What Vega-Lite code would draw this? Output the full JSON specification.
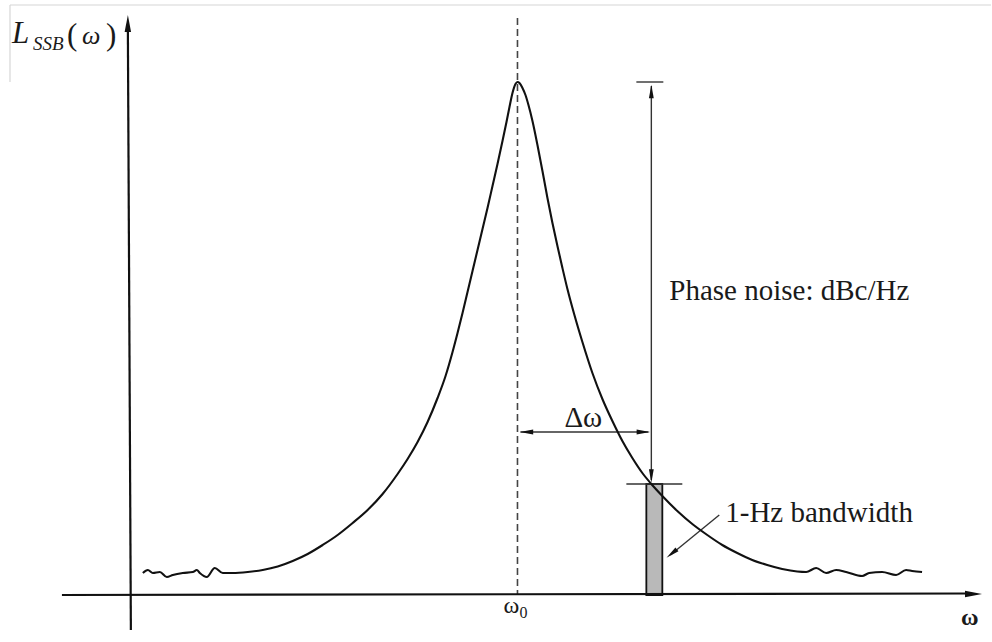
{
  "$schema": "https://vega.github.io/schema/vega-lite/v6.json",
  "width": 992,
  "height": 642,
  "autosize": {"type": "fit", "contains": "padding"},
  "padding": 0,
  "background": "white",
  "config": {"view": {"stroke": null}},
  "datasets": {
    "curve": [
      {"w": 143, "L": 69}, {"w": 148, "L": 72}, {"w": 153, "L": 69}, {"w": 160, "L": 70},
      {"w": 167, "L": 65}, {"w": 173, "L": 67}, {"w": 183, "L": 69}, {"w": 193, "L": 70},
      {"w": 197, "L": 72}, {"w": 200, "L": 69}, {"w": 207, "L": 65}, {"w": 215, "L": 74},
      {"w": 223, "L": 69},
      {"w": 233, "L": 69}, {"w": 248, "L": 70}, {"w": 263, "L": 72}, {"w": 278, "L": 75.5},
      {"w": 293, "L": 81}, {"w": 308, "L": 88}, {"w": 323, "L": 97}, {"w": 338, "L": 107},
      {"w": 353, "L": 119}, {"w": 368, "L": 132}, {"w": 383, "L": 148}, {"w": 398, "L": 168},
      {"w": 408, "L": 183}, {"w": 418, "L": 200}, {"w": 428, "L": 220}, {"w": 438, "L": 244},
      {"w": 446, "L": 266}, {"w": 453, "L": 290}, {"w": 458, "L": 309}, {"w": 463, "L": 329},
      {"w": 468, "L": 350}, {"w": 473, "L": 371}, {"w": 478, "L": 392}, {"w": 483, "L": 413},
      {"w": 488, "L": 434}, {"w": 493, "L": 456}, {"w": 498, "L": 478}, {"w": 503, "L": 501},
      {"w": 507, "L": 520}, {"w": 510, "L": 535}, {"w": 513, "L": 549}, {"w": 516, "L": 558},
      {"w": 518, "L": 560},
      {"w": 520, "L": 559}, {"w": 523, "L": 554}, {"w": 526, "L": 547}, {"w": 529, "L": 537},
      {"w": 533, "L": 521}, {"w": 538, "L": 497}, {"w": 543, "L": 471}, {"w": 548, "L": 444},
      {"w": 553, "L": 419}, {"w": 558, "L": 396}, {"w": 563, "L": 374}, {"w": 568, "L": 353},
      {"w": 575, "L": 327}, {"w": 583, "L": 300}, {"w": 593, "L": 269}, {"w": 603, "L": 243},
      {"w": 613, "L": 221}, {"w": 623, "L": 201}, {"w": 633, "L": 184}, {"w": 643, "L": 169},
      {"w": 652, "L": 158}, {"w": 663, "L": 146}, {"w": 678, "L": 131}, {"w": 693, "L": 118},
      {"w": 708, "L": 107}, {"w": 723, "L": 97}, {"w": 738, "L": 89}, {"w": 753, "L": 82},
      {"w": 768, "L": 77}, {"w": 783, "L": 73}, {"w": 798, "L": 70.5},
      {"w": 807, "L": 70}, {"w": 817, "L": 74}, {"w": 827, "L": 69}, {"w": 837, "L": 72},
      {"w": 847, "L": 70}, {"w": 863, "L": 66}, {"w": 870, "L": 69}, {"w": 883, "L": 70},
      {"w": 897, "L": 67}, {"w": 907, "L": 72}, {"w": 913, "L": 71}, {"w": 923, "L": 70}
    ],
    "frame": [
      {"w": 10, "L": 637, "w2": 992, "L2": 637},
      {"w": 10, "L": 637, "w2": 10, "L2": 560}
    ],
    "axes": [
      {"w": 62, "L": 47, "w2": 968, "L2": 48.5},
      {"w": 131, "L": 12, "w2": 128, "L2": 612}
    ],
    "centre": [{"w": 518, "L": 624, "w2": 518, "L2": 47}],
    "guides": [
      {"w": 652, "L": 556, "w2": 652, "L2": 162},
      {"w": 637, "L": 560, "w2": 664, "L2": 560},
      {"w": 627, "L": 158, "w2": 683, "L2": 158},
      {"w": 521, "L": 210, "w2": 649, "L2": 210},
      {"w": 720, "L": 127, "w2": 671, "L2": 87}
    ],
    "axisHeads": [
      {"w": 128, "L": 618.5, "dir": 0},
      {"w": 974.5, "L": 48, "dir": 90}
    ],
    "heads": [
      {"w": 652, "L": 550.5, "dir": 0},
      {"w": 652, "L": 166, "dir": 180},
      {"w": 527, "L": 210, "dir": 270},
      {"w": 644, "L": 210, "dir": 90},
      {"w": 672.4, "L": 88.4, "dir": 231}
    ],
    "band": [{"w": 647, "w2": 663, "L": 47, "L2": 158}],
    "notes": [
      {"w": 670, "L": 342, "text": "Phase noise: dBc/Hz"},
      {"w": 726, "L": 120, "text": "1-Hz bandwidth"},
      {"w": 565, "L": 215, "text": "Δω"}
    ],
    "axisName": [{"w": 962, "L": 17, "text": "ω"}],
    "omega0": [{"w": 504, "L": 29, "text": "ω"}],
    "sub0": [{"w": 520, "L": 24, "text": "0"}],
    "Lbig": [{"w": 12, "L": 599, "text": "L"}],
    "Lsub": [{"w": 33, "L": 592, "text": "SSB"}],
    "paren": [{"w": 67, "L": 597, "text": "("}, {"w": 106, "L": 597, "text": ")"}],
    "Lomega": [{"w": 82, "L": 598, "text": "ω"}]
  },
  "encoding": {
    "x": {"field": "w", "type": "quantitative", "scale": {"domain": [0, 992], "nice": false, "zero": false}, "axis": null},
    "y": {"field": "L", "type": "quantitative", "scale": {"domain": [0, 642], "nice": false, "zero": false}, "axis": null}
  },
  "layer": [
    {
      "data": {"name": "frame"},
      "mark": {"type": "rule", "stroke": "#d6d6d6", "strokeWidth": 1.2},
      "encoding": {"x2": {"field": "w2"}, "y2": {"field": "L2"}}
    },
    {
      "data": {"name": "band"},
      "mark": {"type": "rect", "fill": "#b9b9b9", "stroke": "#111", "strokeWidth": 1.8},
      "encoding": {"x2": {"field": "w2"}, "y2": {"field": "L2"}}
    },
    {
      "data": {"name": "centre"},
      "mark": {"type": "rule", "stroke": "#444", "strokeWidth": 1.6, "strokeDash": [7, 4]},
      "encoding": {"x2": {"field": "w2"}, "y2": {"field": "L2"}}
    },
    {
      "data": {"name": "axes"},
      "mark": {"type": "rule", "stroke": "#111", "strokeWidth": 2.2},
      "encoding": {"x2": {"field": "w2"}, "y2": {"field": "L2"}}
    },
    {
      "data": {"name": "guides"},
      "mark": {"type": "rule", "stroke": "#333", "strokeWidth": 1.4},
      "encoding": {"x2": {"field": "w2"}, "y2": {"field": "L2"}}
    },
    {
      "data": {"name": "curve"},
      "mark": {"type": "line", "interpolate": "monotone", "stroke": "#111", "strokeWidth": 2.1},
      "encoding": {}
    },
    {
      "data": {"name": "axisHeads"},
      "mark": {"type": "point", "shape": "M0,-1L-0.38,1L0.38,1Z", "filled": true, "fill": "#111", "stroke": null, "size": 289, "opacity": 1},
      "encoding": {"angle": {"field": "dir", "type": "quantitative", "scale": null}}
    },
    {
      "data": {"name": "heads"},
      "mark": {"type": "point", "shape": "M0,-1L-0.36,1L0.36,1Z", "filled": true, "fill": "#111", "stroke": null, "size": 180, "opacity": 1},
      "encoding": {"angle": {"field": "dir", "type": "quantitative", "scale": null}}
    },
    {
      "data": {"name": "notes"},
      "mark": {"type": "text", "font": "Liberation Serif", "fontSize": 29, "align": "left", "baseline": "alphabetic", "fill": "#1a1a1a"},
      "encoding": {"text": {"field": "text"}}
    },
    {
      "data": {"name": "axisName"},
      "mark": {"type": "text", "font": "Liberation Serif", "fontSize": 24, "fontWeight": "bold", "align": "left", "baseline": "alphabetic", "fill": "#1a1a1a"},
      "encoding": {"text": {"field": "text"}}
    },
    {
      "data": {"name": "omega0"},
      "mark": {"type": "text", "font": "Liberation Serif", "fontSize": 24, "align": "left", "baseline": "alphabetic", "fill": "#1a1a1a"},
      "encoding": {"text": {"field": "text"}}
    },
    {
      "data": {"name": "sub0"},
      "mark": {"type": "text", "font": "Liberation Serif", "fontSize": 16, "align": "left", "baseline": "alphabetic", "fill": "#1a1a1a"},
      "encoding": {"text": {"field": "text"}}
    },
    {
      "data": {"name": "Lbig"},
      "mark": {"type": "text", "font": "Liberation Serif", "fontStyle": "italic", "fontSize": 31, "align": "left", "baseline": "alphabetic", "fill": "#1a1a1a"},
      "encoding": {"text": {"field": "text"}}
    },
    {
      "data": {"name": "Lsub"},
      "mark": {"type": "text", "font": "Liberation Serif", "fontStyle": "italic", "fontSize": 19, "align": "left", "baseline": "alphabetic", "fill": "#1a1a1a"},
      "encoding": {"text": {"field": "text"}}
    },
    {
      "data": {"name": "paren"},
      "mark": {"type": "text", "font": "Liberation Serif", "fontSize": 31, "align": "left", "baseline": "alphabetic", "fill": "#1a1a1a"},
      "encoding": {"text": {"field": "text"}}
    },
    {
      "data": {"name": "Lomega"},
      "mark": {"type": "text", "font": "Liberation Serif", "fontStyle": "italic", "fontSize": 26, "align": "left", "baseline": "alphabetic", "fill": "#1a1a1a"},
      "encoding": {"text": {"field": "text"}}
    }
  ]
}
